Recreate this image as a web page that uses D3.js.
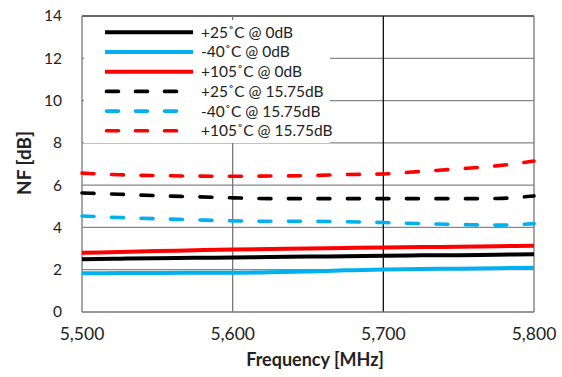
<!DOCTYPE html>
<html><head><meta charset="utf-8">
<script src="https://cdn.jsdelivr.net/npm/d3@7"></script>
<style>body{margin:0;background:#fff}svg{display:block}text{font-family:Lato,"Open Sans",sans-serif}</style>
</head><body><svg id="c" width="562" height="377"></svg>
<script>
const freqs = [5500,5525,5550,5575,5600,5625,5650,5675,5700,5725,5750,5775,5800];
const p25_0 = [2.49,2.52,2.54,2.56,2.58,2.60,2.62,2.64,2.66,2.68,2.69,2.71,2.73];
const m40_0 = [1.83,1.84,1.85,1.86,1.86,1.88,1.92,1.97,2.01,2.03,2.05,2.07,2.09];
const p105_0 = [2.80,2.84,2.88,2.92,2.96,2.98,3.00,3.03,3.05,3.07,3.09,3.11,3.13];
const p25_15 = [5.63,5.57,5.50,5.45,5.40,5.36,5.36,5.36,5.36,5.36,5.36,5.37,5.49];
const m40_15 = [4.54,4.47,4.41,4.36,4.31,4.29,4.29,4.27,4.23,4.18,4.14,4.11,4.18];
const p105_15 = [6.57,6.49,6.45,6.43,6.42,6.43,6.45,6.50,6.53,6.65,6.77,6.91,7.14];
const seriesNames = ["+25˚C @ 0dB","-40˚C @ 0dB","+105˚C @ 0dB","+25˚C @ 15.75dB","-40˚C @ 15.75dB","+105˚C @ 15.75dB"];
const seriesValues = [p25_0,m40_0,p105_0,p25_15,m40_15,p105_15];
const seriesColors = ["#000000","#00B0F0","#FF0000","#000000","#00B0F0","#FF0000"];
const seriesDashed = [false,false,false,true,true,true];
const xTicks = [5500,5600,5700,5800];
const yTicks = [0,2,4,6,8,10,12,14];

const svg = d3.select("#c");
const L=82,R=534,T=16,B=312;
const x = d3.scaleLinear().domain([5500,5800]).range([L,R]);
const y = d3.scaleLinear().domain([0,14]).range([B,T]);

svg.append("g").selectAll("line").data(yTicks.filter(d=>d>0)).join("line")
  .attr("x1",L).attr("x2",R).attr("y1",d=>y(d)).attr("y2",d=>y(d))
  .attr("stroke",d=>d===14?"#333":"#868686").attr("stroke-width",1.3);
svg.append("g").selectAll("line").data(xTicks.slice(1)).join("line")
  .attr("x1",d=>x(d)).attr("x2",d=>x(d)).attr("y1",T).attr("y2",B)
  .attr("stroke",d=>d===5700?"#111":"#777").attr("stroke-width",1.3);
svg.append("line").attr("x1",L).attr("x2",L).attr("y1",T).attr("y2",B).attr("stroke","#777").attr("stroke-width",1.3);
svg.append("line").attr("x1",L).attr("x2",R).attr("y1",B).attr("y2",B).attr("stroke","#777").attr("stroke-width",1.3);

svg.append("g").selectAll("text").data(yTicks).join("text")
  .attr("x",62).attr("y",d=>y(d)).attr("dy","0.35em").attr("text-anchor","end")
  .attr("font-size",15.5).attr("fill","#222").text(d=>d);
const fmt = d3.format(",");
svg.append("g").selectAll("text").data(xTicks).join("text")
  .attr("x",d=>x(d)).attr("y",334).attr("dy","0.35em").attr("text-anchor","middle")
  .attr("font-size",17.5).attr("fill","#222").text(d=>fmt(d));

svg.append("text").attr("x",315).attr("y",366).attr("text-anchor","middle")
  .attr("font-size",18).attr("font-weight","bold").attr("fill","#222").text("Frequency [MHz]");
svg.append("text").attr("transform","translate(31,163) rotate(-90)").attr("text-anchor","middle")
  .attr("font-size",19).attr("font-weight","bold").attr("fill","#222").text("NF [dB]");

const line = d3.line().x((d,i)=>x(freqs[i])).y(d=>y(d)).curve(d3.curveMonotoneX);
const plot = svg.append("g");
seriesValues.forEach((vals,k)=>{
  plot.append("path").attr("d",line(vals)).attr("fill","none")
    .attr("stroke",seriesColors[k])
    .attr("stroke-width",seriesDashed[k]?3.6:4)
    .attr("stroke-linecap",seriesDashed[k]?"round":"butt")
    .attr("stroke-dasharray",seriesDashed[k]?"12,17.5":null);
});

const lg = svg.append("g");
lg.append("rect").attr("x",84).attr("y",20).attr("width",246).attr("height",123).attr("fill","#fff");
seriesNames.forEach((n,k)=>{
  const yy = 32.3 + k*19.7;
  lg.append("line").attr("x1",seriesDashed[k]?106.5:105).attr("x2",seriesDashed[k]?192:193)
    .attr("y1",yy).attr("y2",yy).attr("stroke",seriesColors[k])
    .attr("stroke-width",seriesDashed[k]?3.6:4)
    .attr("stroke-linecap",seriesDashed[k]?"round":"butt")
    .attr("stroke-dasharray",seriesDashed[k]?"12,17":null);
  lg.append("text").attr("x",201).attr("y",yy).attr("dy","0.35em").attr("font-size",15.5)
    .attr("fill","#222").text(n);
});
</script></body></html>
